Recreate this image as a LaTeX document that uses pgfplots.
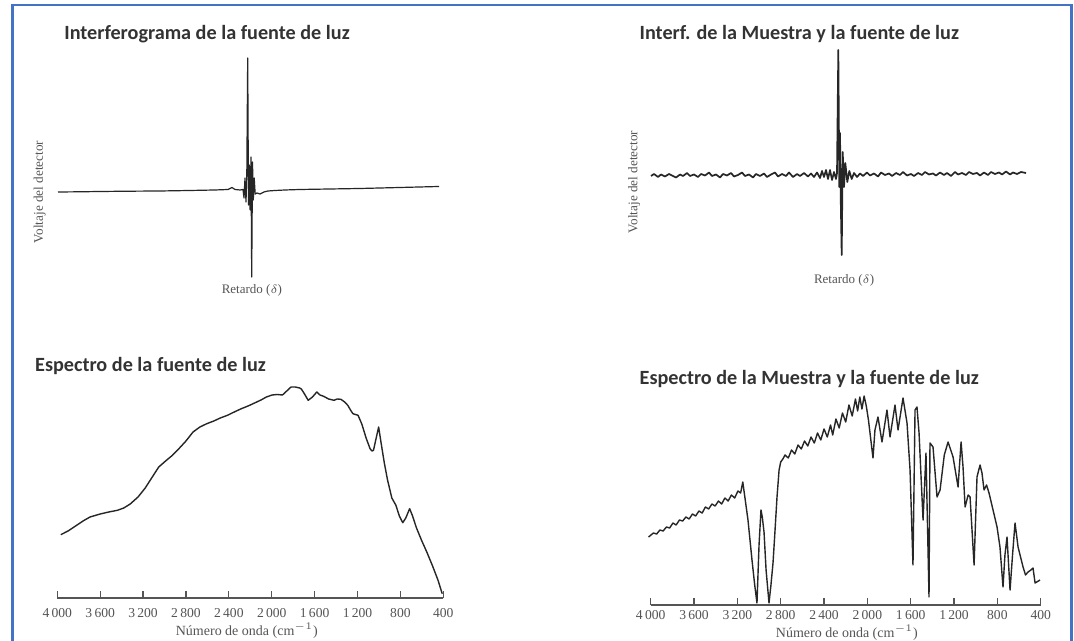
\documentclass[border=0pt]{standalone}
\usepackage{fontspec}
\setmainfont{Liberation Serif}
\newfontfamily\titlefont{Carlito}
\usepackage{pgfplots}
\pgfplotsset{compat=1.18}
\definecolor{frameblue}{HTML}{4472C4}
\definecolor{ink}{HTML}{262626}
\definecolor{txt}{HTML}{555555}
\definecolor{ttl}{HTML}{333333}
\tikzset{lab/.style={font=\fontsize{6.5}{7}\selectfont, text=txt, anchor=center}}
\pgfplotsset{
  interf/.style={scale only axis, axis lines=none, xtick=\empty, ytick=\empty, clip=false, anchor=south west,
    title style={anchor=west, xshift=-3.2pt, yshift=-6.4pt, font=\titlefont\bfseries\fontsize{10.1}{12}\selectfont, text=ttl}},
  spec/.style={scale only axis, axis x line=bottom, axis y line=none, x dir=reverse,
    xmin=400, xmax=4000, ymin=0, ymax=220, clip=false, anchor=south west,
    xtick={4000,3600,3200,2800,2400,2000,1600,1200,800,400},
    xticklabels={4\,000,3\,600,3\,200,2\,800,2\,400,2\,000,1\,600,1\,200,800,400},
    ytick=\empty, tick align=inside, major tick length=3.3pt,
    x axis line style={-, line width=0.6pt, color=txt},
    major tick style={line width=0.6pt, color=txt},
    /pgf/number format/assume math mode=true,
    xticklabel style={font=\fontsize{6.8}{8}\selectfont, text=txt},
    xlabel style={anchor=center, font=\fontsize{7}{8}\selectfont, text=txt},
    title style={anchor=west, xshift=-3.2pt, yshift=-6.4pt, font=\titlefont\bfseries\fontsize{10.1}{12}\selectfont, text=ttl}},
}
\begin{document}
\begin{tikzpicture}
\useasboundingbox (0,0) rectangle (537pt,320.5pt);
\fill[white] (0,0) rectangle (537pt,320.5pt);
\draw[frameblue, line width=1.1pt] (6.2pt,-3pt) -- (6.2pt,318pt) -- (535.7pt,318pt) -- (535.7pt,-3pt);

% Panel 1
\begin{axis}[interf, at={(29pt,182pt)}, width=190.5pt, height=109.5pt,
  xmin=58, xmax=439, ymin=-87, ymax=132,
  title={Interferograma de la fuente de luz}, title style={at={(axis description cs:0.015,1.114)}}]
\addplot[ink, line width=0.6pt, line join=round] coordinates {
(58,-2) (80,-1.8) (100,-1.5) (130,-1.2) (160,-1) (190,-0.5) (215,0) (228,0.5) (232,2.5) (235,0.5)
(240,0) (243,0.5) (244,-8) (245,12) (246,-12) (246.8,15) (247.7,132) (248.5,-15) (249.3,25)
(250.1,-20) (251,33) (251.7,-87) (252.5,28) (253.3,-10) (254.2,12) (255.2,-4) (257,-3) (260,-4)
(264,-2) (268,-1) (275,-0.5) (285,0) (300,0.5) (330,1) (360,1.5) (400,2.5) (439,3.5)};
\node[lab] at (axis description cs:0.509,-0.059) {Retardo ($\delta$)};
\node[lab, rotate=90, font=\fontsize{6.6}{7}\selectfont] at (axis description cs:-0.048,0.388) {Voltaje del detector};
\end{axis}

% Panel 2
\begin{axis}[interf, at={(325.5pt,193pt)}, width=187.5pt, height=102.5pt,
  xmin=651, xmax=1026, ymin=-80, ymax=125,
  title={Interf. de la Muestra y la fuente de luz}, title style={at={(axis description cs:-0.032,1.083)}}]
\addplot[ink, line width=0.85pt, line join=round] coordinates {
(651,-1) (654,1) (658,-2) (661,0.5) (665,-1.5) (669,1) (672,-0.5) (676,-2.5) (680,0.5) (683,-1)
(687,2) (690,-1) (694,0.5) (698,-2) (701,1) (705,-0.5) (709,2.5) (712,-1) (716,0.5) (720,-2.5)
(723,1) (727,-0.5) (731,2) (734,-1.5) (738,0) (742,2.5) (745,-1) (749,0.5) (753,-2.5) (756,1)
(760,-1) (764,1.5) (767,-2) (771,0.5) (775,2.5) (778,-1.5) (782,1) (786,-1) (789,2.5) (793,-2)
(797,1) (800,-1) (804,2) (808,-1.5) (811,1.5) (814,-2) (817,2.5) (820,-3) (822,4) (824,-2)
(826,5) (828,-4) (830,5) (832,-5) (834,3) (836,-4) (837,2)
(838.3,125) (839.3,-12) (840,42) (840.7,-22) (841.7,-80) (842.7,23) (844,-12) (845.3,12)
(847.3,-7) (849.3,4) (851.7,-4) (854,2) (857,-2) (860,1.5) (863,-1) (867,2.5) (870,-0.5) (874,1.5)
(878,-1.5) (881,2.5) (885,0) (889,1.5) (892,-1) (896,2) (900,0) (903,3) (907,-0.5) (911,1)
(914,-1) (918,2) (922,0) (925,3) (929,0.5) (933,1.5) (936,-0.5) (940,2.5) (944,0) (947,2)
(951,-1) (955,3) (958,0.5) (962,2) (966,0) (969,3) (973,1) (977,2) (980,-0.5) (984,2.5)
(988,0) (991,3) (995,1) (999,2.5) (1002,0.5) (1006,3.5) (1010,0.5) (1013,2.5) (1017,1) (1021,3) (1026,2)};
\node[lab] at (axis description cs:0.515,-0.122) {Retardo ($\delta$)};
\node[lab, rotate=90, font=\fontsize{6.6}{7}\selectfont] at (axis description cs:-0.045,0.356) {Voltaje del detector};
\end{axis}

% Panel 3
\begin{axis}[spec, at={(28.65pt,21.5pt)}, width=193pt, height=110pt,
  xticklabel shift=1.5pt,
  title={Espectro de la fuente de luz}, title style={at={(axis description cs:-0.059,1.059)}},
  xlabel={Número de onda (cm$^{-1}$)}, xlabel style={at={(axis description cs:0.491,-0.15)}}]
\addplot[ink, line width=0.7pt, line join=round] coordinates {
(3968,63.3) (3900,67) (3830,72) (3760,77) (3695,81) (3600,84) (3520,86) (3439,87.7) (3380,90)
(3320,94) (3247,101) (3180,110) (3120,120) (3054,131) (2990,137) (2926,142.7) (2860,150)
(2800,157) (2734,166) (2670,171) (2606,174.3) (2540,177) (2480,180) (2413,182.7) (2350,186)
(2290,189) (2221,192) (2160,195) (2100,198) (2050,201) (1996,203) (1950,203.5) (1900,203)
(1860,207) (1820,211) (1780,211) (1740,210) (1724,209) (1700,205) (1660,197.7) (1620,201)
(1580,206) (1550,203) (1516,201.7) (1470,199) (1419,197.7) (1390,199) (1355,198.7) (1320,196)
(1291,192.7) (1260,187) (1243,184.3) (1220,183.5) (1195,182.7) (1160,174) (1120,160)
(1083,149.3) (1065,147) (1051,147.7) (1030,158) (1003,171) (980,155) (950,135) (920,118)
(880,100) (842,92.7) (810,82) (778,75.3) (750,80) (714,89.3) (690,83) (650,70) (600,57)
(554,46) (500,32) (450,18) (410,4.3)};
\end{axis}

% Panel 4
\begin{axis}[spec, at={(325.35pt,18pt)}, width=195pt, height=110pt,
  xticklabel shift=-1pt,
  title={Espectro de la Muestra y la fuente de luz}, title style={at={(axis description cs:-0.03,1.032)}},
  xlabel={Número de onda (cm$^{-1}$)}, xlabel style={at={(axis description cs:0.503,-0.127)}}]
\addplot[ink, line width=0.7pt, line join=round] coordinates {
(4020,68) (3975,72) (3945,71) (3915,75) (3885,74) (3855,78) (3825,77) (3795,82) (3765,80)
(3735,85) (3705,84) (3675,88) (3645,86) (3615,91) (3585,89) (3555,94) (3525,92) (3495,98)
(3465,96) (3435,101) (3405,99) (3375,104) (3345,101) (3315,107) (3285,104) (3255,110)
(3225,107) (3195,114) (3170,112) (3150,123) (3102,85) (3065,45) (3040,20) (3019,2) (3000,60)
(2982,95) (2970,88) (2954,73) (2935,35) (2908,2) (2890,20) (2871,42) (2855,70) (2834,108)
(2815,135) (2800,143) (2780,146) (2760,150) (2730,147) (2700,155) (2670,151) (2640,160)
(2610,156) (2580,164) (2550,159) (2520,168) (2490,162) (2460,172) (2430,165) (2400,176)
(2370,168) (2340,180) (2320,170) (2290,186) (2260,177) (2230,192) (2200,183) (2170,200)
(2140,189) (2110,206) (2090,194) (2070,208) (2050,196) (2030,209) (2010,199) (1990,185)
(1948,147) (1930,175) (1902,188) (1865,163) (1819,195) (1791,168)
(1745,200) (1717,175) (1671,207) (1634,182) (1606,135) (1579,40) (1560,195) (1542,198)
(1523,172) (1486,85) (1459,152) (1431,8) (1422,162) (1394,158) (1357,108) (1329,115)
(1290,150) (1255,163) (1209,148) (1163,118) (1135,163) (1117,138) (1098,98) (1070,110)
(1052,108) (1015,40) (988,128) (960,140) (942,132) (923,115) (900,120) (877,112) (840,95)
(803,78) (776,58) (748,18) (730,50) (711,68) (683,15) (660,50) (637,82) (609,58) (563,38)
(540,30) (517,33) (490,35) (471,37) (452,22) (406,25)};
\end{axis}
\end{tikzpicture}
\end{document}
